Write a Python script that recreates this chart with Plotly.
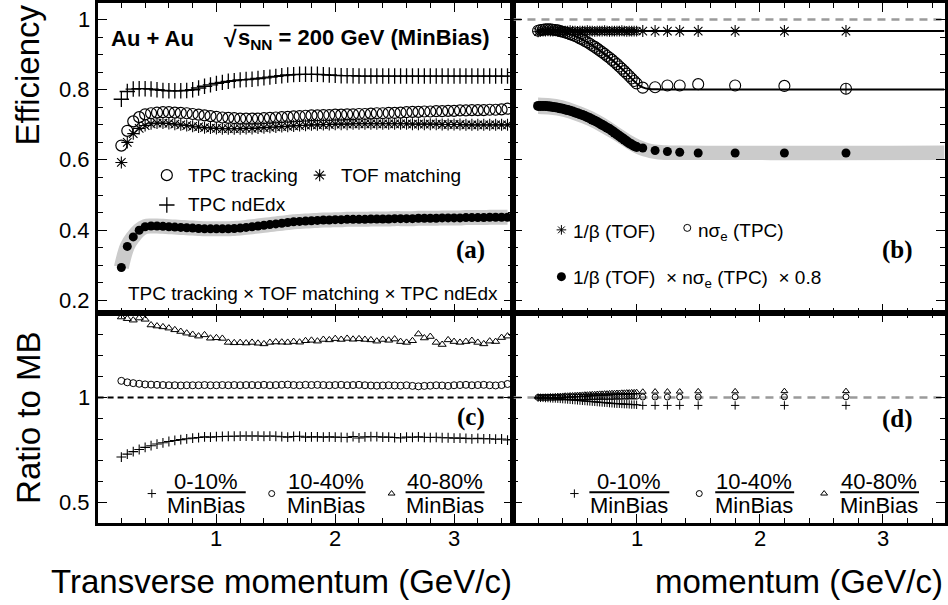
import plotly.graph_objects as go

W, H = 948, 605

# ------------------------------------------------------------------ data
# panel (a) / (c): transverse momentum bins
pt_a = [0.20, 0.25, 0.30, 0.35, 0.40, 0.45, 0.50, 0.55, 0.60, 0.65,
        0.70, 0.75, 0.80, 0.85, 0.90, 0.95, 1.00, 1.05, 1.10, 1.15,
        1.20, 1.25, 1.30, 1.35, 1.40, 1.45, 1.50, 1.55, 1.60, 1.65,
        1.70, 1.75, 1.80, 1.85, 1.90, 1.95, 2.00, 2.05, 2.10, 2.15,
        2.20, 2.25, 2.30, 2.35, 2.40, 2.45, 2.50, 2.55, 2.60, 2.65,
        2.70, 2.75, 2.80, 2.85, 2.90, 2.95, 3.00, 3.05, 3.10, 3.15,
        3.20, 3.25, 3.30, 3.35, 3.40, 3.45]

eff_ndedx = [0.773, 0.795, 0.802, 0.803, 0.803, 0.802, 0.800, 0.798, 0.797, 0.797,
             0.797, 0.798, 0.800, 0.805, 0.810, 0.814, 0.818, 0.821, 0.824, 0.826,
             0.828, 0.829, 0.830, 0.832, 0.834, 0.836, 0.838, 0.840, 0.842, 0.843,
             0.844, 0.844, 0.844, 0.844, 0.843, 0.842, 0.841, 0.840, 0.840, 0.840,
             0.839, 0.839, 0.839, 0.839, 0.839, 0.839, 0.839, 0.839, 0.839, 0.839,
             0.839, 0.839, 0.839, 0.839, 0.839, 0.839, 0.839, 0.839, 0.839, 0.839,
             0.839, 0.839, 0.839, 0.839, 0.839, 0.839]

eff_tracking = [0.641, 0.683, 0.710, 0.722, 0.730, 0.733, 0.735, 0.736, 0.736, 0.735,
                0.734, 0.733, 0.731, 0.729, 0.727, 0.725, 0.723, 0.721, 0.720, 0.719,
                0.718, 0.718, 0.718, 0.718, 0.719, 0.720, 0.721, 0.722, 0.723, 0.724,
                0.725, 0.726, 0.727, 0.727, 0.728, 0.728, 0.729, 0.729, 0.730, 0.730,
                0.731, 0.731, 0.732, 0.733, 0.733, 0.734, 0.734, 0.735, 0.736, 0.737,
                0.737, 0.738, 0.738, 0.739, 0.739, 0.740, 0.740, 0.741, 0.741, 0.742,
                0.742, 0.742, 0.743, 0.743, 0.744, 0.746]

eff_tofmatch = [0.593, 0.650, 0.675, 0.690, 0.698, 0.703, 0.705, 0.705, 0.704, 0.702,
                0.700, 0.698, 0.696, 0.694, 0.692, 0.691, 0.690, 0.689, 0.689, 0.689,
                0.689, 0.690, 0.690, 0.691, 0.692, 0.693, 0.694, 0.695, 0.696, 0.697,
                0.698, 0.699, 0.700, 0.700, 0.701, 0.701, 0.702, 0.702, 0.702, 0.703,
                0.703, 0.703, 0.703, 0.703, 0.703, 0.703, 0.703, 0.703, 0.703, 0.702,
                0.702, 0.702, 0.702, 0.702, 0.701, 0.701, 0.701, 0.701, 0.700, 0.700,
                0.700, 0.700, 0.700, 0.700, 0.700, 0.700]

eff_product = [0.294, 0.354, 0.381, 0.400, 0.410, 0.412, 0.412, 0.411, 0.410, 0.409,
               0.408, 0.407, 0.406, 0.405, 0.404, 0.404, 0.404, 0.404, 0.404, 0.405,
               0.406, 0.408, 0.410, 0.412, 0.414, 0.416, 0.418, 0.420, 0.422, 0.424,
               0.425, 0.426, 0.427, 0.428, 0.429, 0.429, 0.430, 0.430, 0.431, 0.431,
               0.431, 0.431, 0.432, 0.432, 0.432, 0.432, 0.433, 0.433, 0.433, 0.433,
               0.434, 0.434, 0.434, 0.434, 0.435, 0.435, 0.435, 0.435, 0.436, 0.436,
               0.436, 0.436, 0.437, 0.437, 0.437, 0.437]

ratio_0_10 = [0.716, 0.730, 0.742, 0.752, 0.762, 0.770, 0.778, 0.784, 0.790, 0.795,
              0.799, 0.803, 0.806, 0.809, 0.812, 0.811, 0.813, 0.814, 0.815, 0.815,
              0.816, 0.816, 0.816, 0.816, 0.815, 0.816, 0.815, 0.813, 0.811, 0.814,
              0.815, 0.811, 0.812, 0.812, 0.811, 0.812, 0.811, 0.810, 0.809, 0.814,
              0.807, 0.812, 0.813, 0.813, 0.811, 0.811, 0.809, 0.807, 0.811, 0.810,
              0.812, 0.810, 0.809, 0.810, 0.808, 0.808, 0.806, 0.806, 0.805, 0.803,
              0.805, 0.803, 0.803, 0.801, 0.802, 0.797]

ratio_10_40 = [1.079, 1.072, 1.068, 1.065, 1.062, 1.061, 1.060, 1.059, 1.058, 1.058,
               1.057, 1.058, 1.058, 1.058, 1.059, 1.058, 1.058, 1.059, 1.058, 1.059,
               1.058, 1.059, 1.059, 1.058, 1.060, 1.058, 1.059, 1.060, 1.061, 1.059,
               1.058, 1.060, 1.059, 1.060, 1.059, 1.058, 1.059, 1.060, 1.058, 1.059,
               1.060, 1.058, 1.057, 1.056, 1.057, 1.058, 1.057, 1.056, 1.058, 1.055,
               1.053, 1.055, 1.056, 1.058, 1.057, 1.055, 1.058, 1.059, 1.060, 1.058,
               1.059, 1.060, 1.058, 1.057, 1.059, 1.064]

ratio_40_80 = [1.383, 1.375, 1.368, 1.378, 1.372, 1.345, 1.340, 1.336, 1.330, 1.322,
               1.314, 1.306, 1.300, 1.292, 1.298, 1.282, 1.284, 1.281, 1.262, 1.260,
               1.261, 1.259, 1.262, 1.258, 1.255, 1.262, 1.264, 1.263, 1.262, 1.266,
               1.263, 1.270, 1.272, 1.268, 1.276, 1.274, 1.280, 1.276, 1.281, 1.277,
               1.279, 1.276, 1.274, 1.268, 1.276, 1.272, 1.278, 1.266, 1.262, 1.270,
               1.302, 1.283, 1.290, 1.262, 1.252, 1.274, 1.266, 1.262, 1.266, 1.271,
               1.262, 1.255, 1.268, 1.266, 1.285, 1.292]

# panel (b) / (d): momentum, dense region and sparse high-p points
p_dense = [0.20, 0.22, 0.24, 0.26, 0.28, 0.30, 0.32, 0.34, 0.36, 0.38,
           0.40, 0.42, 0.44, 0.46, 0.48, 0.50, 0.52, 0.54, 0.56, 0.58,
           0.60, 0.62, 0.64, 0.66, 0.68, 0.70, 0.72, 0.74, 0.76, 0.78,
           0.80, 0.82, 0.84, 0.86, 0.88, 0.90, 0.92, 0.94, 0.96, 0.98,
           1.00]
p_sparse = [1.05, 1.15, 1.25, 1.35, 1.50, 1.80, 2.20, 2.70]

tof_beta_dense = [0.965, 0.966, 0.967, 0.967, 0.968, 0.967, 0.967, 0.968, 0.967, 0.967,
                  0.966, 0.967, 0.967, 0.968, 0.967, 0.967, 0.966, 0.967, 0.967, 0.967,
                  0.968, 0.967, 0.967, 0.966, 0.967, 0.967, 0.967, 0.968, 0.967, 0.966,
                  0.967, 0.967, 0.967, 0.967, 0.968, 0.967, 0.966, 0.967, 0.967, 0.967,
                  0.967]
tof_beta_sparse = [0.967, 0.967, 0.967, 0.967, 0.967, 0.967, 0.967, 0.967]

nsige_dense = [0.968, 0.970, 0.971, 0.972, 0.972, 0.972, 0.971, 0.970, 0.969, 0.967,
               0.965, 0.963, 0.961, 0.958, 0.956, 0.953, 0.950, 0.946, 0.943, 0.939,
               0.935, 0.931, 0.926, 0.922, 0.917, 0.912, 0.907, 0.902, 0.896, 0.891,
               0.885, 0.879, 0.873, 0.866, 0.860, 0.853, 0.846, 0.839, 0.832, 0.825,
               0.818]
nsige_sparse = [0.806, 0.807, 0.812, 0.812, 0.816, 0.812, 0.811, 0.803]
nsige_sparse_err = [0.0, 0.0, 0.0, 0.0, 0.0, 0.0, 0.0, 0.016]

pid_prod_dense = [0.754, 0.754, 0.754, 0.754, 0.753, 0.752, 0.751, 0.750, 0.749, 0.747,
                  0.746, 0.744, 0.742, 0.740, 0.738, 0.735, 0.733, 0.730, 0.728, 0.725,
                  0.722, 0.719, 0.715, 0.712, 0.708, 0.704, 0.700, 0.696, 0.692, 0.688,
                  0.683, 0.678, 0.673, 0.668, 0.663, 0.658, 0.653, 0.648, 0.644, 0.640,
                  0.637]
pid_prod_sparse = [0.634, 0.627, 0.624, 0.622, 0.620, 0.620, 0.620, 0.620]

# systematic band of the PID product and the fit curves in (b)
band_b_p = [0.2, 0.3, 0.4, 0.5, 0.6, 0.7, 0.8, 0.9, 1.0, 1.1, 1.2, 1.4, 3.5]
band_b_hi = [0.778, 0.776, 0.770, 0.759, 0.745, 0.728, 0.707, 0.683, 0.662, 0.648, 0.643, 0.641, 0.641]
band_b_lo = [0.731, 0.729, 0.723, 0.712, 0.698, 0.680, 0.660, 0.637, 0.617, 0.606, 0.601, 0.600, 0.600]

fit_tof_p = [0.2, 3.5]
fit_tof_v = [0.967, 0.967]
fit_nsige_p = [0.2, 0.3, 0.4, 0.5, 0.6, 0.7, 0.8, 0.9, 1.0, 1.05, 1.1, 1.2, 3.5]
fit_nsige_v = [0.970, 0.972, 0.965, 0.953, 0.935, 0.912, 0.885, 0.853, 0.818, 0.807, 0.802, 0.801, 0.801]

# panel (d) ratios
rd_0_10_dense = [0.999, 0.998, 0.998, 0.997, 0.997, 0.996, 0.995, 0.995, 0.994, 0.993,
                 0.992, 0.991, 0.990, 0.989, 0.988, 0.987, 0.986, 0.985, 0.984, 0.983,
                 0.982, 0.981, 0.980, 0.979, 0.978, 0.977, 0.976, 0.975, 0.974, 0.973,
                 0.972, 0.971, 0.970, 0.970, 0.969, 0.968, 0.968, 0.967, 0.966, 0.966,
                 0.965]
rd_10_40_dense = [1.000, 1.000, 1.000, 1.000, 1.000, 1.001, 1.000, 1.001, 1.001, 1.001,
                  1.001, 1.002, 1.001, 1.002, 1.002, 1.002, 1.002, 1.003, 1.002, 1.003,
                  1.003, 1.003, 1.003, 1.004, 1.003, 1.004, 1.004, 1.004, 1.004, 1.005,
                  1.004, 1.005, 1.005, 1.005, 1.005, 1.006, 1.005, 1.006, 1.006, 1.006,
                  1.006]
rd_40_80_dense = [1.001, 1.002, 1.002, 1.003, 1.003, 1.004, 1.004, 1.005, 1.006, 1.006,
                  1.007, 1.008, 1.008, 1.009, 1.009, 1.010, 1.011, 1.011, 1.012, 1.013,
                  1.013, 1.014, 1.015, 1.015, 1.016, 1.017, 1.017, 1.018, 1.018, 1.019,
                  1.020, 1.020, 1.021, 1.021, 1.022, 1.022, 1.023, 1.023, 1.024, 1.024,
                  1.025]
rd_0_10_sparse = [0.962, 0.962, 0.962, 0.962, 0.962, 0.962, 0.962, 0.962]
rd_10_40_sparse = [1.002, 1.002, 1.002, 1.002, 1.002, 1.003, 1.003, 1.003]
rd_40_80_sparse = [1.027, 1.028, 1.028, 1.028, 1.029, 1.029, 1.030, 1.030]

eff_ticks = [0.2, 0.4, 0.6, 0.8, 1.0]
eff_ticktext = ["0.2", "0.4", "0.6", "0.8", "1"]
ratio_ticks = [0.5, 1.0]
ratio_ticktext = ["0.5", "1"]
mom_ticks = [1, 2, 3]
mom_ticktext = ["1", "2", "3"]

for arr in (eff_ndedx, eff_tracking, eff_tofmatch, eff_product,
            ratio_0_10, ratio_10_40, ratio_40_80):
    assert len(arr) == len(pt_a), len(arr)
for arr in (tof_beta_dense, nsige_dense, pid_prod_dense,
            rd_0_10_dense, rd_10_40_dense, rd_40_80_dense):
    assert len(arr) == len(p_dense), len(arr)

# ------------------------------------------------------------------ helpers
SANS = "Liberation Sans, Arial, sans-serif"
SERIF = "Liberation Serif, Times New Roman, serif"


def px(x):
    return x / W


def py(y):
    return 1 - y / H


XA = [px(97.7), px(514.0)]
XB = [px(514.0), px(945.5)]
YT = [py(312.0), 1.0]
YB = [py(523.0), py(312.0)]

fig = go.Figure()


def sc(x, y, ax, **kw):
    xa, ya = ax
    fig.add_trace(go.Scatter(x=x, y=y, xaxis=xa, yaxis=ya, showlegend=False,
                             hoverinfo="skip", **kw))


def mk(symbol, size, lw=1.2, color="black"):
    return dict(symbol=symbol, size=size, color=color,
                line=dict(color=color, width=lw))


A = ("x", "y")
B = ("x2", "y2")
C = ("x3", "y3")
D = ("x4", "y4")
K = ("x5", "y5")   # full-figure pixel frame used for legend keys

# ---- panel (a)
sc(pt_a, eff_product, A, mode="lines",
   line=dict(color="#cbcbcb", width=15, shape="spline"))
sc(pt_a, eff_ndedx, A, mode="markers", marker=mk("cross-thin-open", 11, 1.3))
sc(pt_a, eff_tofmatch, A, mode="markers", marker=mk("asterisk-open", 10, 1.1))
sc(pt_a, eff_tracking, A, mode="markers", marker=mk("circle-open", 11, 1.2))
sc(pt_a, eff_product, A, mode="markers", marker=mk("circle", 9, 0))

# ---- panel (b)
sc(band_b_p, band_b_lo, B, mode="lines", line=dict(color="#cbcbcb", width=0, shape="spline"))
sc(band_b_p, band_b_hi, B, mode="lines", line=dict(color="#cbcbcb", width=0, shape="spline"),
   fill="tonexty", fillcolor="#cbcbcb")
sc(fit_tof_p, fit_tof_v, B, mode="lines", line=dict(color="black", width=2))
sc(fit_nsige_p, fit_nsige_v, B, mode="lines", line=dict(color="black", width=2, shape="spline"))
sc(p_dense, tof_beta_dense, B, mode="markers", marker=mk("asterisk-open", 9, 1.1))
sc(p_sparse, tof_beta_sparse, B, mode="markers", marker=mk("asterisk-open", 10, 1.1))
sc(p_dense, nsige_dense, B, mode="markers", marker=mk("circle-open", 11, 1.1))
sc(p_sparse, nsige_sparse, B, mode="markers", marker=mk("circle-open", 11, 1.1),
   error_y=dict(type="data", array=nsige_sparse_err, color="black", thickness=1, width=0))
sc(p_dense, pid_prod_dense, B, mode="markers", marker=mk("circle", 10, 0))
sc(p_sparse, pid_prod_sparse, B, mode="markers", marker=mk("circle", 9, 0))

# ---- panel (c)
sc(pt_a, ratio_40_80, C, mode="markers", marker=mk("triangle-up-open", 7, 1))
sc(pt_a, ratio_10_40, C, mode="markers", marker=mk("circle-open", 7, 1))
sc(pt_a, ratio_0_10, C, mode="markers", marker=mk("cross-thin-open", 7, 1.1))

# ---- panel (d)
sc(p_dense, rd_40_80_dense, D, mode="markers", marker=mk("triangle-up-open", 6, 1))
sc(p_dense, rd_10_40_dense, D, mode="markers", marker=mk("circle-open", 6, 1))
sc(p_dense, rd_0_10_dense, D, mode="markers", marker=mk("cross-thin-open", 6, 1))
sc(p_sparse, rd_40_80_sparse, D, mode="markers", marker=mk("triangle-up-open", 6, 1))
sc(p_sparse, rd_10_40_sparse, D, mode="markers", marker=mk("circle-open", 6, 1))
sc(p_sparse, rd_0_10_sparse, D, mode="markers", marker=mk("cross-thin-open", 6, 1))

# ---- legend keys (layout positions in figure pixels)
legend_keys = [
    # (x_px, y_px, symbol, size, line width)
    (167, 173, "circle-open", 11, 1.2),
    (320, 173, "asterisk-open", 10, 1.1),
    (167, 203, "cross-thin-open", 11, 1.3),
    (562, 228, "asterisk-open", 8, 1.0),
    (688, 226, "circle-open", 7, 1.0),
    (562, 275, "circle", 9, 0),
    (152, 493, "cross-thin-open", 6, 1.0),
    (272, 493, "circle-open", 6, 1.0),
    (392, 493, "triangle-up-open", 6, 1.0),
    (575, 493, "cross-thin-open", 6, 1.0),
    (700, 493, "circle-open", 6, 1.0),
    (825, 493, "triangle-up-open", 6, 1.0),
]
for kx, ky, ksym, ksize, klw in legend_keys:
    sc([kx], [ky], K, mode="markers", marker=mk(ksym, ksize, klw), cliponaxis=False)

# ------------------------------------------------------------------ axes
# tick labels are drawn as annotations (placed through the axes' scales)


def xax(domain, anchor):
    return dict(domain=domain, anchor=anchor, range=[0, 3.5],
                tickvals=mom_ticks, showticklabels=False,
                ticks="inside", ticklen=9, tickwidth=1.2, tickcolor="black",
                minor=dict(dtick=0.2, ticks="inside", ticklen=5, tickwidth=1, tickcolor="black"),
                showline=True, linewidth=3, linecolor="black", mirror="ticks",
                showgrid=False, zeroline=False)


def yax(domain, anchor, rng, tv, minor):
    return dict(domain=domain, anchor=anchor, range=rng,
                tickvals=tv, showticklabels=False,
                ticks="inside", ticklen=9, tickwidth=1.2, tickcolor="black",
                minor=dict(dtick=minor, ticks="inside", ticklen=5, tickwidth=1, tickcolor="black"),
                showline=True, linewidth=3, linecolor="black", mirror="ticks",
                showgrid=False, zeroline=False)


EFF_RANGE = [0.163, 1.047]
RAT_RANGE = [0.4, 1.4]

fig.update_layout(
    width=W, height=H, autosize=False,
    margin=dict(l=0, r=0, t=0, b=0, pad=0),
    paper_bgcolor="white", plot_bgcolor="rgba(0,0,0,0)",
    xaxis=xax(XA, "y"),
    yaxis=yax(YT, "x", EFF_RANGE, eff_ticks, 0.05),
    xaxis2=xax(XB, "y2"),
    yaxis2=yax(YT, "x2", EFF_RANGE, eff_ticks, 0.05),
    xaxis3=xax(XA, "y3"),
    yaxis3=yax(YB, "x3", RAT_RANGE, ratio_ticks, 0.1),
    xaxis4=xax(XB, "y4"),
    yaxis4=yax(YB, "x4", RAT_RANGE, ratio_ticks, 0.1),
    xaxis5=dict(domain=[0, 1], anchor="y5", range=[0, W], visible=False, fixedrange=True),
    yaxis5=dict(domain=[0, 1], anchor="x5", range=[H, 0], visible=False, fixedrange=True),
)

# reference lines at unity
shapes = [
    dict(type="line", xref="x2", yref="y2", x0=0, x1=3.5, y0=1, y1=1,
         line=dict(color="#9a9a9a", width=2.5, dash="8px,6px"), layer="below"),
    dict(type="line", xref="x3", yref="y3", x0=0, x1=3.5, y0=1, y1=1,
         line=dict(color="black", width=2, dash="6px,4px"), layer="below"),
    dict(type="line", xref="x4", yref="y4", x0=0, x1=3.5, y0=1, y1=1,
         line=dict(color="#9a9a9a", width=2.5, dash="8px,6px"), layer="below"),
]

ann = []


def text(x, y, s, size=19, xanchor="left", family=SANS, angle=0, yanchor="middle",
         xref="paper", yref="paper", weight="normal"):
    ann.append(dict(x=px(x) if xref == "paper" else x,
                    y=py(y) if yref == "paper" else y,
                    xref=xref, yref=yref, text=s,
                    showarrow=False, xanchor=xanchor, yanchor=yanchor, textangle=angle,
                    font=dict(family=family, size=size, color="black", weight=weight),
                    borderpad=0))


# tick labels
for v, t in zip(eff_ticks, eff_ticktext):
    text(91, v, t, size=22, xanchor="right", yref="y")
for v, t in zip(ratio_ticks, ratio_ticktext):
    text(91, v, t, size=22, xanchor="right", yref="y3")
for xr in ("x3", "x4"):
    for v, t in zip(mom_ticks, mom_ticktext):
        text(v, 538, t, size=22, xanchor="center", xref=xr)

# axis titles
text(28, 72, "Efficiency", size=33, xanchor="center", angle=-90)
text(29, 417, "Ratio to MB", size=33, xanchor="center", angle=-90)
text(514, 581, "Transverse momentum (GeV/c)", size=33, xanchor="right")
text(945, 581, "momentum (GeV/c)", size=33, xanchor="right")

# panel (a)
text(110, 36, "Au + Au", size=22, weight="bold")
text(223, 36, "√", size=23, weight="bold")
text(237, 36, "s<sub>NN</sub> = 200 GeV (MinBias)", size=22, weight="bold")
shapes.append(dict(type="line", xref="paper", yref="paper", x0=px(234), x1=px(270),
                   y0=py(22.5), y1=py(22.5), line=dict(color="black", width=1.5)))
text(187, 173, "TPC tracking")
text(340, 173, "TOF matching")
text(187, 203, "TPC ndEdx")
text(127, 292, "TPC tracking × TOF matching × TPC ndEdx")
text(471, 248, "(a)", size=25, xanchor="center", family=SERIF, weight="bold")

# panel (b)
text(573, 230, "1/β (TOF)")
text(698, 230, "nσ<sub>e</sub> (TPC)")
text(573, 277, "1/β (TOF)  × nσ<sub>e</sub> (TPC)  × 0.8")
text(898, 248, "(b)", size=25, xanchor="center", family=SERIF, weight="bold")

# panels (c) and (d)
text(471, 416, "(c)", size=25, xanchor="center", family=SERIF, weight="bold")
text(898, 418, "(d)", size=25, xanchor="center", family=SERIF, weight="bold")

fractions = [(206, 167, 246, "0-10%"), (326, 287, 366, "10-40%"), (445, 406, 485, "40-80%"),
             (630, 590, 670, "0-10%"), (755, 716, 795, "10-40%"), (880, 841, 920, "40-80%")]
for cx, l0, l1, lab in fractions:
    text(cx, 481, lab, size=22, xanchor="center")
    text(cx, 505, "MinBias", size=22, xanchor="center")
    shapes.append(dict(type="line", xref="paper", yref="paper", x0=px(l0), x1=px(l1),
                       y0=py(491.7), y1=py(491.7), line=dict(color="black", width=2)))

fig.update_layout(shapes=shapes, annotations=ann)

fig.write_html("out.html", include_plotlyjs=True, full_html=True,
               config={"displayModeBar": False},
               post_script="document.body.style.margin='0';")
